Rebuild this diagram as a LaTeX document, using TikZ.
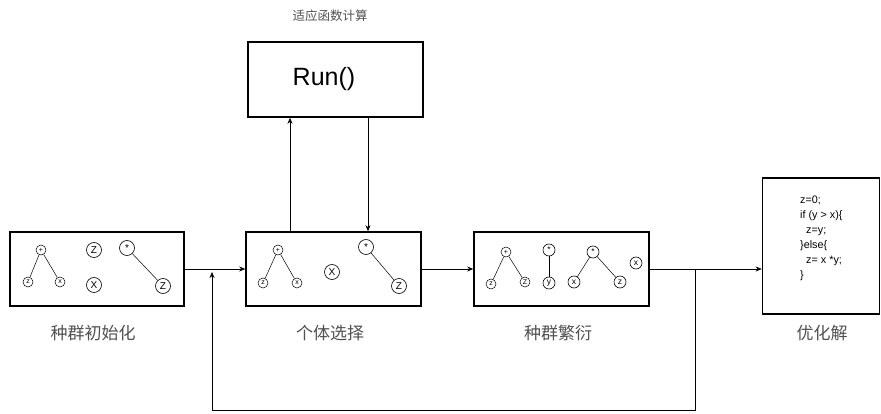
\documentclass[tikz,border=0pt]{standalone}
\usepackage{fontspec}
\setmainfont{Liberation Sans}
\newfontfamily\cjk{Noto Sans CJK SC}
\usetikzlibrary{arrows.meta}
\definecolor{lbl}{HTML}{505050}
\newcommand{\mystar}{\raisebox{-0.25em}{*}}
\tikzset{
  box/.style={draw, line width=1.6pt, inner sep=0pt},
  arr/.style={-{Stealth[length=6pt,width=5pt]}, line width=0.6pt},
  conn/.style={line width=0.6pt},
  edge/.style={line width=0.5pt},
  sleaf/.style={draw, circle, line width=0.5pt, inner sep=0pt, minimum size=10pt, font=\fontsize{7}{7}\selectfont},
  mleaf/.style={draw, circle, line width=0.6pt, inner sep=0pt, minimum size=12pt, font=\fontsize{8.5}{8.5}\selectfont},
  bleaf/.style={draw, circle, line width=0.6pt, inner sep=0pt, minimum size=15pt, font=\fontsize{10}{10}\selectfont},
  caplabel/.style={font=\cjk\fontsize{17}{17}\selectfont, text=lbl},
}
\begin{document}
\begin{tikzpicture}[x=1pt,y=-1pt]
\useasboundingbox (0,0) rectangle (881,414);
% boxes
\node[box, minimum width=174pt, minimum height=74pt] (b1) at (97,269) {};
\node[box, minimum width=175pt, minimum height=74pt] (b2) at (333.5,269) {};
\node[box, minimum width=175pt, minimum height=74pt] (b3) at (561.5,269) {};
\node[box, minimum width=175pt, minimum height=75pt] (run) at (335.5,79.5) {};
\node[font=\fontsize{25}{25}\selectfont, inner sep=0pt] (runtxt) at (324,79) {Run()};
\node[box, minimum width=117pt, minimum height=136pt] (b4) at (821,246) {};
% code
\node[anchor=north west, align=left, inner sep=0pt, font=\fontsize{10.8}{15}\selectfont] (code) at (800,196)
{z=0;\\if (y > x)\{\\\ \ z=y;\\\}else\{\\\ \ z= x *y;\\\}};
% labels
\node[font=\cjk\fontsize{12.5}{12.5}\selectfont, text=lbl] (t0) at (330,16) {适应函数计算};
\node[caplabel] (t1) at (93,333) {种群初始化};
\node[caplabel] (t2) at (330,333) {个体选择};
\node[caplabel] (t3) at (558,333) {种群繁衍};
\node[caplabel] (t4) at (822,333) {优化解};
% box1 trees
\node[sleaf] (a1) at (41,250) {+};
\node[sleaf] (a2) at (28,282) {z};
\node[sleaf] (a3) at (60,282) {x};
\draw[edge] (a1) -- (a2) (a1) -- (a3);
\node[bleaf] (a4) at (94,250) {Z};
\node[bleaf] (a5) at (94,285) {X};
\node[bleaf] (a6) at (127,248) {\mystar};
\node[bleaf] (a7) at (163,286) {Z};
\draw[edge] (a6) -- (a7);
% box2 trees
\node[sleaf] (c1) at (278,250) {+};
\node[sleaf] (c2) at (263,283) {z};
\node[sleaf] (c3) at (297,283) {x};
\draw[edge] (c1) -- (c2) (c1) -- (c3);
\node[bleaf] (c4) at (332,272) {X};
\node[bleaf] (c5) at (366,247) {\mystar};
\node[bleaf] (c6) at (399,286) {Z};
\draw[edge] (c5) -- (c6);
% box3 trees
\node[sleaf] (d1) at (506,252) {+};
\node[sleaf] (d2) at (491,284) {z};
\node[sleaf] (d3) at (525,282) {Z};
\draw[edge] (d1) -- (d2) (d1) -- (d3);
\node[mleaf] (d4) at (549,250) {\mystar};
\node[mleaf] (d5) at (549,283) {y};
\draw[edge] (d4) -- (d5);
\node[mleaf] (d6) at (593,252) {\mystar};
\node[mleaf] (d7) at (574,282) {x};
\node[mleaf] (d8) at (620,282) {z};
\draw[edge] (d6) -- (d7) (d6) -- (d8);
\node[mleaf] (d9) at (636,263) {x};
% connectors
\draw[arr] (b1.east) -- (b2.west);
\draw[arr] (b2.east) -- (b3.west);
\draw[arr] (b3.east) -- (b3.east -| b4.west);
\coordinate (up1) at (290,232);
\coordinate (dn1) at (368,117);
\draw[arr] (up1) -- (up1 |- run.south);
\draw[arr] (dn1) -- (dn1 |- b2.north);
\coordinate (j1) at (695,269);
\coordinate (j2) at (695,410);
\coordinate (j3) at (212,410);
\coordinate (j4) at (212,272);
\draw[conn] (j1) -- (j2) -- (j3);
\draw[arr] (j3) -- (j4);
\end{tikzpicture}
\end{document}
